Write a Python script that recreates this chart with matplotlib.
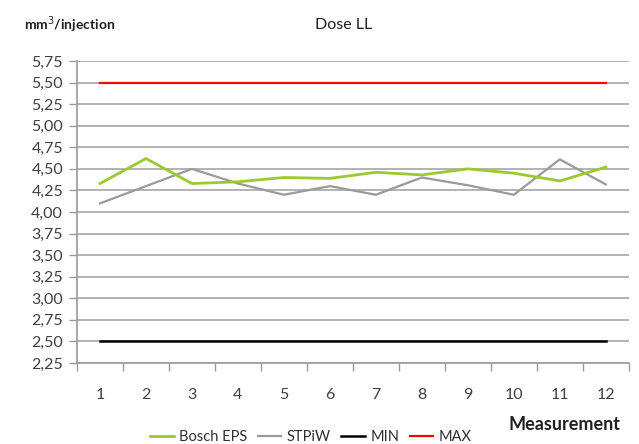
import matplotlib
matplotlib.use("Agg")
import matplotlib.pyplot as plt
from matplotlib.ticker import FixedLocator, FuncFormatter

measurements = list(range(1, 13))
bosch_eps = [4.33, 4.62, 4.33, 4.35, 4.40, 4.39, 4.46, 4.43, 4.50, 4.45, 4.36, 4.52]
stpiw = [4.10, 4.30, 4.50, 4.33, 4.20, 4.30, 4.20, 4.40, 4.31, 4.20, 4.61, 4.32]
min_line = [2.50] * 12
max_line = [5.50] * 12
y_ticks = [2.25 + 0.25 * i for i in range(15)]

plt.rcParams['font.family'] = ['Lato', 'DejaVu Sans']

fig = plt.figure(figsize=(6.39, 4.44), dpi=100)
ax = fig.add_axes([0.1205, 0.1824, 0.8635, 0.6802])

ax.plot(measurements, bosch_eps, color='#9BC932', lw=2.0, label='Bosch EPS', zorder=4)
ax.plot(measurements, stpiw, color='#9A9A9A', lw=1.6, label='STPiW', zorder=3)
ax.plot(measurements, min_line, color='#000000', lw=1.8, label='MIN', zorder=3)
ax.plot(measurements, max_line, color='#FF0000', lw=1.6, label='MAX', zorder=3)

ax.set_xlim(0.5, 12.5)
ax.set_ylim(2.25, 5.75)
ax.yaxis.set_major_locator(FixedLocator(y_ticks))
ax.yaxis.set_major_formatter(FuncFormatter(lambda v, p: f"{v:.2f}".replace('.', ',')))
ax.set_xticks(measurements)
ax.set_xticklabels([str(m) for m in measurements])
ax.set_xticks([m + 0.5 for m in range(0, 13)], minor=True)
ax.tick_params(axis='x', which='major', length=0, pad=18, labelsize=11.5, labelcolor='#404040')
ax.tick_params(axis='x', which='minor', length=6, width=1, color='#9a9a9a', direction='out')
ax.tick_params(axis='y', which='major', length=6, width=1, color='#9a9a9a', direction='out',
               labelsize=11.5, labelcolor='#404040', pad=4)

ax.grid(axis='y', color='#a6a6a6', lw=1.2, zorder=0)
for s in ['top', 'right']:
    ax.spines[s].set_visible(False)
ax.spines['left'].set_color('#9a9a9a')
ax.spines['bottom'].set_color('#9a9a9a')
ax.spines['left'].set_linewidth(1.2)
ax.spines['bottom'].set_linewidth(1.2)

fig.text(24 / 639, 1 - 25 / 444, 'mm$^3$/injection', fontsize=10, fontweight='bold',
         color='#202020', ha='left', va='center')
fig.text(344 / 639, 1 - 25 / 444, 'Dose LL', fontsize=11.5, color='#202020', ha='center', va='center')
fig.text(565 / 639, 1 - 424 / 444, 'Measurement', fontsize=13, fontweight='bold',
         color='#202020', ha='center', va='center')

leg = fig.legend(loc='center', bbox_to_anchor=(311 / 639, 1 - 437 / 444), ncol=4, frameon=False,
                 fontsize=10.5, handlelength=1.6, handletextpad=0.4, columnspacing=0.7)
for t in leg.get_texts():
    t.set_color('#303030')

fig.savefig('out.png', dpi=100, facecolor='white')
